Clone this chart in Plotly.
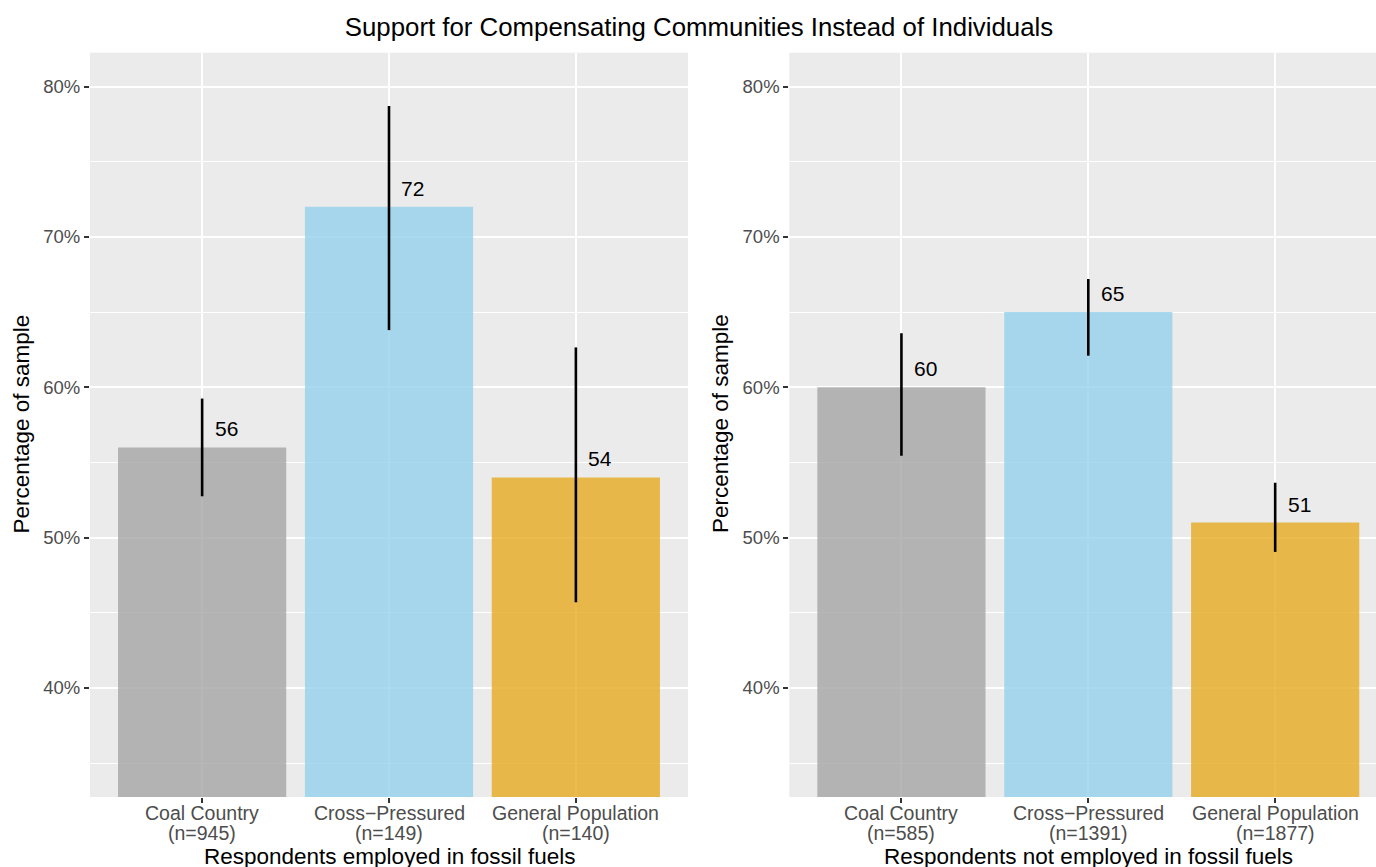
import plotly.graph_objects as go

# --- data -------------------------------------------------------------
categories = ["Coal Country", "Cross\u2212Pressured", "General Population"]

n_employed = [945, 149, 140]
pct_employed = [56, 72, 54]
lo_employed = [52.75, 63.8, 45.7]
hi_employed = [59.25, 78.7, 62.65]

n_not_employed = [585, 1391, 1877]
pct_not_employed = [60, 65, 51]
lo_not_employed = [55.45, 62.1, 49.05]
hi_not_employed = [63.6, 67.2, 53.65]

panel_titles = ["Respondents employed in fossil fuels",
                "Respondents not employed in fossil fuels"]
y_title = "Percentage of sample"
chart_title = "Support for Compensating Communities Instead of Individuals"

y_ticks = [40, 50, 60, 70, 80]
y_tick_labels = [f"{v}%" for v in y_ticks]

# --- styling ------------------------------------------------------------
W, H = 1376, 867
FONT = "Liberation Sans, Arial, Helvetica, sans-serif"
bar_colors = ["rgba(165,165,165,0.8)", "rgba(149,209,235,0.8)", "rgba(230,170,32,0.8)"]
panel_bg = "#EBEBEB"
tick_text = "#4D4D4D"


def px_x(v):
    return v / W


def px_y(v):
    return 1 - v / H


fig = go.Figure()

panels = [
    ("x", "y", pct_employed, lo_employed, hi_employed, n_employed),
    ("x2", "y2", pct_not_employed, lo_not_employed, hi_not_employed, n_not_employed),
]

for xa, ya, pct, lo, hi, n in panels:
    fig.add_trace(go.Bar(
        x=categories, y=pct, xaxis=xa, yaxis=ya,
        width=0.9,
        marker=dict(color=bar_colors, line=dict(width=0)),
        error_y=dict(
            type="data", symmetric=False,
            array=[h - p for h, p in zip(hi, pct)],
            arrayminus=[p - l for p, l in zip(pct, lo)],
            color="black", thickness=2.6, width=0,
        ),
        showlegend=False, hoverinfo="skip",
    ))

y_dom = [px_y(797), px_y(52.7)]
y_range = [32.75, 82.25]

common_x = dict(
    type="category", showgrid=True, gridcolor="white", gridwidth=2,
    ticks="outside", ticklen=5, tickwidth=1.5, tickcolor="#333333",
    showticklabels=False, zeroline=False, showline=False,
)
common_y = dict(
    range=y_range, domain=y_dom, tickmode="array", tickvals=y_ticks, ticktext=y_tick_labels,
    showgrid=True, gridcolor="white", gridwidth=2,
    minor=dict(dtick=5, tick0=0, showgrid=True, gridcolor="white", gridwidth=1, ticklen=0),
    ticks="outside", ticklen=5, tickwidth=1.5, tickcolor="#333333",
    tickfont=dict(family=FONT, size=18.5, color=tick_text),
    zeroline=False, showline=False,
)

unit_px = (688 - 90) / 3.2
right_left = 789.3
fig.update_layout(
    xaxis=dict(common_x, domain=[px_x(90), px_x(688)], range=[-0.6, 2.6]),
    xaxis2=dict(common_x, domain=[px_x(right_left), 1.0],
                range=[-0.6, -0.6 + (W - right_left) / unit_px], anchor="y2"),
    yaxis=dict(common_y, anchor="x"),
    yaxis2=dict(common_y, anchor="x2"),
)

annotations = []

# value labels above each bar, nudged right of the error bar
for xa, ya, pct, lo, hi, n in panels:
    for i, v in enumerate(pct):
        annotations.append(dict(
            x=i + 0.128, y=v, xref=xa, yref=ya, text=str(v), showarrow=False,
            xanchor="center", yanchor="middle", yshift=18.5,
            font=dict(family=FONT, size=21, color="black"),
        ))

# category labels with sample sizes under each panel
for xa, ya, pct, lo, hi, n in panels:
    for i, c in enumerate(categories):
        annotations.append(dict(
            x=i, y=px_y(813), xref=xa, yref="paper", text=c, showarrow=False,
            xanchor="center", yanchor="middle",
            font=dict(family=FONT, size=19.5, color=tick_text),
        ))
        annotations.append(dict(
            x=i, y=px_y(833), xref=xa, yref="paper", text=f"(n={n[i]})", showarrow=False,
            xanchor="center", yanchor="middle",
            font=dict(family=FONT, size=19.5, color=tick_text),
        ))

# panel axis titles
for xc, t in zip([389, 1088], panel_titles):
    annotations.append(dict(
        x=px_x(xc), y=px_y(856.5), xref="paper", yref="paper", text=t, showarrow=False,
        xanchor="center", yanchor="middle",
        font=dict(family=FONT, size=22.5, color="black"),
    ))
for xc in [20.5, 720]:
    annotations.append(dict(
        x=px_x(xc), y=px_y(424), xref="paper", yref="paper", text=y_title, showarrow=False,
        xanchor="center", yanchor="middle", textangle=-90,
        font=dict(family=FONT, size=22.5, color="black"),
    ))

fig.update_layout(
    width=W, height=H,
    margin=dict(l=0, r=0, t=0, b=0),
    paper_bgcolor="white", plot_bgcolor=panel_bg,
    annotations=annotations,
    bargap=0.1,
    title=dict(text=chart_title, x=px_x(699), y=px_y(27), xanchor="center", yanchor="middle",
               font=dict(family=FONT, size=25.8, color="black")),
)

fig.write_html("out.html")
